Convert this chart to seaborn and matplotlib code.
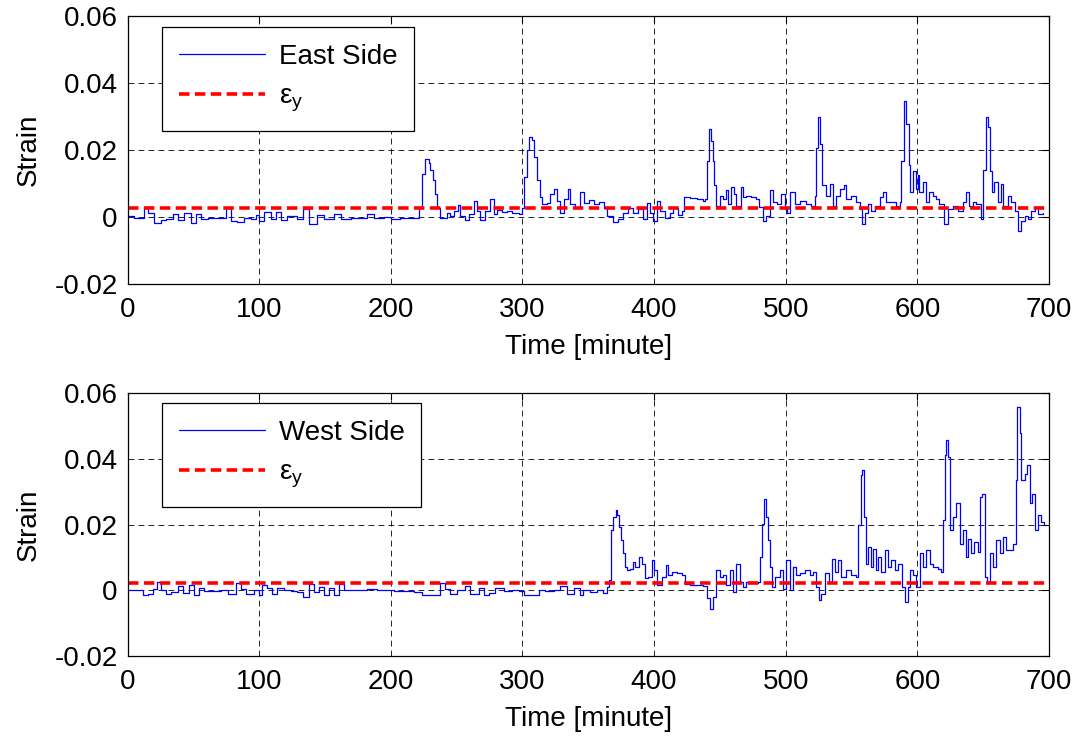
import matplotlib
matplotlib.use("Agg")
import matplotlib.pyplot as plt
import seaborn as sns
import pandas as pd

# ---------------- data ----------------
east_time = [0.6, 5.2, 10.2, 12.8, 15.3, 20.3, 25.4, 29.2, 34.3, 38.0, 43.1, 48.1, 51.9, 55.7,
             60.8, 68.4, 74.7, 78.5, 83.5, 88.6, 93.6, 97.4, 100.0, 103.7, 108.8, 112.6, 116.4,
             121.4, 129.0, 133.6, 137.8, 144.2, 149.2, 156.8, 161.8, 169.4, 174.5, 182.0, 187.1,
             194.7, 199.8, 207.3, 212.4, 218.7, 221.3, 223.8, 226.3, 228.8, 230.1, 232.1, 233.4,
             235.2, 237.2, 240.2, 242.8, 245.3, 247.8, 250.9, 252.9, 256.7, 259.2, 263.0, 265.5,
             268.0, 271.8, 275.1, 278.1, 280.7, 284.5, 288.3, 292.0, 297.1, 299.6, 301.4, 303.4,
             305.2, 307.2, 309.0, 311.0, 313.0, 314.8, 318.6, 321.1, 323.7, 326.2, 328.7, 331.2,
             334.3, 336.3, 340.1, 343.4, 346.4, 350.2, 354.0, 357.8, 361.6, 364.1, 369.1, 372.9,
             376.7, 380.5, 384.3, 388.1, 391.9, 394.4, 396.9, 399.5, 402.0, 404.5, 408.3, 412.1,
             414.7, 418.5, 421.0, 422.8, 427.3, 432.4, 437.5, 438.6, 439.9, 441.6, 443.1, 444.4,
             445.7, 447.4, 450.0, 452.5, 454.5, 456.3, 458.8, 460.6, 462.6, 465.7, 467.7, 470.2,
             474.0, 477.8, 479.8, 482.8, 484.8, 488.4, 490.4, 493.4, 496.7, 499.2, 501.0, 503.5,
             506.8, 510.6, 515.7, 519.4, 522.0, 523.2, 524.5, 525.8, 527.8, 530.3, 533.4, 535.9,
             538.4, 541.0, 544.0, 546.0, 549.8, 553.6, 556.1, 557.9, 559.9, 562.5, 565.0, 567.5,
             571.3, 573.8, 576.4, 580.2, 584.0, 586.5, 587.8, 589.8, 591.5, 593.3, 594.6, 596.6,
             598.6, 600.4, 601.6, 604.2, 606.7, 609.2, 611.7, 614.3, 616.8, 620.6, 623.1, 626.9,
             630.7, 634.5, 637.0, 639.6, 642.1, 644.6, 648.4, 650.2, 652.2, 653.8, 655.3, 656.8,
             658.6, 661.1, 663.6, 665.4, 668.7, 671.2, 673.8, 676.3, 678.8, 681.4, 683.9, 686.4,
             689.0, 691.5, 695.3]
east_strain = [0.0003, -0.0002, -0.0002, 0.0031, 0.0013, -0.0017, -0.0010, -0.0006, 0.0008,
               -0.0010, 0.0013, -0.0017, 0.0010, -0.0007, -0.0002, -0.0004, 0.0027, -0.0012,
               -0.0014, -0.0002, -0.0007, 0.0006, -0.0012, 0.0016, -0.0007, 0.0016, -0.0010,
               0.0003, -0.0007, 0.0023, -0.0020, 0.0006, -0.0007, 0.0008, -0.0007, -0.0002,
               -0.0002, 0.0010, -0.0002, 0.0000, -0.0007, -0.0002, -0.0004, -0.0002, 0.0026,
               0.0129, 0.0172, 0.0160, 0.0139, 0.0109, 0.0069, 0.0028, -0.0002, -0.0002, 0.0013,
               0.0003, 0.0018, 0.0036, 0.0003, -0.0010, 0.0008, 0.0048, 0.0018, -0.0010, 0.0018,
               0.0054, 0.0008, 0.0020, 0.0016, 0.0018, 0.0013, 0.0008, 0.0028, 0.0119, 0.0200,
               0.0240, 0.0230, 0.0180, 0.0109, 0.0059, 0.0038, 0.0043, 0.0069, 0.0084, 0.0048,
               0.0013, 0.0054, 0.0084, 0.0038, 0.0028, 0.0074, 0.0043, 0.0050, 0.0040, 0.0045,
               0.0028, 0.0003, -0.0014, -0.0007, 0.0013, 0.0028, 0.0013, 0.0023, -0.0007, 0.0043,
               0.0013, -0.0012, 0.0048, 0.0018, -0.0002, 0.0013, 0.0026, 0.0006, 0.0018, 0.0061,
               0.0057, 0.0054, 0.0048, 0.0054, 0.0166, 0.0263, 0.0227, 0.0166, 0.0095, 0.0034,
               0.0064, 0.0054, 0.0080, 0.0039, 0.0090, 0.0069, 0.0034, 0.0090, 0.0059, 0.0064,
               0.0059, 0.0054, 0.0029, -0.0012, 0.0003, 0.0080, 0.0044, 0.0039, 0.0069, 0.0023,
               0.0013, 0.0074, 0.0039, 0.0049, 0.0039, 0.0034, 0.0064, 0.0207, 0.0299, 0.0217,
               0.0095, 0.0064, 0.0100, 0.0034, 0.0064, 0.0085, 0.0095, 0.0054, 0.0064, 0.0044,
               0.0023, -0.0022, 0.0013, 0.0039, 0.0018, 0.0034, 0.0059, 0.0074, 0.0044, 0.0044,
               0.0034, 0.0044, 0.0166, 0.0345, 0.0278, 0.0156, 0.0074, 0.0136, 0.0085, 0.0125,
               0.0074, 0.0105, 0.0044, 0.0074, 0.0064, 0.0054, 0.0039, -0.0022, 0.0023, 0.0034,
               0.0018, 0.0044, 0.0074, 0.0034, 0.0044, 0.0039, -0.0007, 0.0141, 0.0299, 0.0268,
               0.0136, 0.0074, 0.0105, 0.0044, 0.0100, 0.0034, 0.0064, 0.0044, 0.0018, -0.0043,
               -0.0012, 0.0003, -0.0007, 0.0018, 0.0029, 0.0008, 0.0013]

west_time = [0.6, 5.0, 11.5, 15.3, 19.1, 22.4, 25.4, 29.2, 33.0, 38.0, 41.8, 46.9, 50.7, 54.5,
             58.3, 65.8, 70.9, 76.0, 82.3, 86.1, 89.9, 96.2, 100.0, 102.5, 106.3, 110.1, 113.9,
             118.9, 124.0, 129.0, 133.5, 137.9, 141.7, 145.5, 149.2, 153.0, 156.8, 160.6, 164.4,
             172.0, 182.1, 189.7, 197.3, 202.3, 209.9, 217.5, 223.8, 230.1, 237.7, 241.5, 245.3,
             250.4, 256.7, 260.5, 266.8, 270.6, 274.4, 279.4, 285.7, 292.1, 297.1, 300.9, 308.5,
             312.3, 317.3, 323.6, 328.7, 333.7, 338.8, 343.8, 346.3, 348.9, 351.4, 356.5, 361.5,
             364.0, 366.1, 367.4, 369.1, 370.9, 372.2, 373.7, 375.0, 376.3, 377.6, 379.2, 381.8,
             383.8, 385.6, 388.8, 390.6, 393.1, 395.6, 398.1, 399.9, 402.5, 405.8, 409.0, 410.8,
             413.3, 417.1, 421.0, 423.5, 427.3, 432.3, 437.3, 439.9, 442.4, 444.9, 447.4, 450.0,
             452.5, 455.0, 457.6, 460.1, 462.6, 465.2, 467.7, 470.2, 475.3, 479.0, 480.3, 482.1,
             483.6, 484.9, 486.7, 487.9, 489.2, 491.7, 495.5, 498.0, 500.5, 503.1, 505.6, 508.1,
             510.7, 514.5, 518.2, 520.8, 523.3, 525.3, 527.1, 529.6, 532.9, 535.4, 537.2, 539.7,
             542.2, 546.0, 549.8, 553.1, 554.9, 556.9, 558.2, 559.5, 560.7, 562.5, 565.0, 566.3,
             568.3, 570.1, 572.1, 575.2, 577.7, 580.2, 582.7, 585.3, 587.0, 588.6, 590.3, 592.8,
             594.1, 596.6, 599.2, 601.7, 604.2, 606.8, 609.3, 611.8, 615.6, 618.1, 619.4, 621.2,
             621.9, 623.2, 624.5, 627.0, 629.5, 632.1, 634.6, 636.6, 638.4, 640.9, 643.4, 646.0,
             647.3, 649.3, 651.1, 652.8, 654.9, 657.4, 659.9, 662.5, 665.0, 667.5, 670.1, 672.6,
             675.1, 675.9, 677.7, 679.0, 681.5, 683.5, 685.3, 687.3, 689.1, 691.6, 694.2, 696.2]
west_strain = [0.0000, 0.0000, -0.0015, -0.0010, 0.0005, 0.0025, 0.0000, -0.0010, -0.0005,
               0.0012, -0.0008, 0.0015, -0.0015, 0.0008, -0.0002, -0.0002, 0.0002, -0.0012,
               0.0022, 0.0005, -0.0012, 0.0000, -0.0015, 0.0015, 0.0008, -0.0010, 0.0008, 0.0000,
               -0.0002, -0.0005, -0.0020, 0.0020, -0.0005, 0.0010, -0.0015, 0.0008, -0.0015,
               0.0020, 0.0000, 0.0000, 0.0005, 0.0000, 0.0002, -0.0002, -0.0002, -0.0005,
               -0.0015, -0.0015, 0.0022, 0.0005, -0.0010, 0.0000, 0.0012, -0.0010, 0.0008,
               -0.0015, -0.0008, 0.0008, -0.0002, 0.0000, -0.0002, -0.0015, -0.0015, 0.0002,
               -0.0002, 0.0002, 0.0012, -0.0010, 0.0008, -0.0015, 0.0000, 0.0002, -0.0005,
               0.0000, -0.0008, 0.0010, 0.0030, 0.0183, 0.0223, 0.0244, 0.0228, 0.0193, 0.0152,
               0.0112, 0.0071, 0.0061, 0.0066, 0.0086, 0.0071, 0.0102, 0.0081, 0.0036, 0.0041,
               0.0091, 0.0061, 0.0015, 0.0041, 0.0076, 0.0046, 0.0056, 0.0051, 0.0046, 0.0020,
               0.0017, 0.0017, 0.0012, -0.0025, -0.0056, -0.0020, 0.0061, 0.0041, 0.0046, 0.0015,
               0.0061, -0.0005, 0.0081, 0.0025, 0.0010, 0.0025, 0.0022, 0.0025, 0.0102, 0.0203,
               0.0279, 0.0223, 0.0152, 0.0071, 0.0010, 0.0041, 0.0061, 0.0005, 0.0091, 0.0000,
               0.0071, 0.0046, 0.0051, 0.0061, 0.0046, 0.0056, 0.0010, -0.0030, -0.0010, 0.0051,
               0.0025, 0.0096, 0.0056, 0.0091, 0.0041, 0.0061, 0.0046, 0.0041, 0.0198, 0.0350,
               0.0365, 0.0223, 0.0081, 0.0132, 0.0071, 0.0127, 0.0061, 0.0102, 0.0056, 0.0122,
               0.0071, 0.0091, 0.0061, 0.0081, 0.0081, 0.0010, -0.0036, 0.0010, 0.0061, 0.0046,
               0.0010, 0.0112, 0.0071, 0.0122, 0.0081, 0.0071, 0.0066, 0.0056, 0.0213, 0.0411,
               0.0457, 0.0406, 0.0183, 0.0223, 0.0264, 0.0142, 0.0183, 0.0102, 0.0157, 0.0112,
               0.0147, 0.0117, 0.0284, 0.0294, 0.0041, 0.0025, 0.0112, 0.0071, 0.0152, 0.0112,
               0.0162, 0.0122, 0.0122, 0.0142, 0.0335, 0.0558, 0.0477, 0.0335, 0.0355, 0.0380,
               0.0264, 0.0294, 0.0183, 0.0228, 0.0208, 0.0203]

eps_y_east = 0.0027
eps_y_west = 0.0023
x_range = [0, 700]

panel_names = ["East Side", "West Side"]
x_ticks = [0, 100, 200, 300, 400, 500, 600, 700]
y_ticks = [-0.02, 0, 0.02, 0.04, 0.06]
y_tick_labels = ["-0.02", "0", "0.02", "0.04", "0.06"]
x_label = "Time [minute]"
y_label = "Strain"
eps_label = r"$\mathregular{\varepsilon_y}$"

# ---------------- style ----------------
sns.set_theme(style="white")
plt.rcParams["font.family"] = ["Liberation Sans", "DejaVu Sans"]
plt.rcParams["mathtext.fontset"] = "custom"
plt.rcParams["mathtext.rm"] = "Liberation Sans"
plt.rcParams["mathtext.it"] = "Liberation Sans"
for k in ["text.color", "axes.labelcolor", "xtick.color", "ytick.color"]:
    plt.rcParams[k] = "black"
FS = 20

fig = plt.figure(figsize=(10.77, 7.40), dpi=100)
ax_top = fig.add_axes([0.1184, 0.6162, 0.8556, 0.3622])
ax_bot = fig.add_axes([0.1184, 0.1135, 0.8556, 0.3554])

series = [
    (ax_top, east_time, east_strain, eps_y_east, panel_names[0], 0.959),
    (ax_bot, west_time, west_strain, eps_y_west, panel_names[1], 0.962),
]

for ax, t, s, eps, name, leg_y in series:
    df = pd.DataFrame({"time": t, "strain": s})
    sns.lineplot(data=df, x="time", y="strain", ax=ax, color="#0000ff", lw=0.9,
                 estimator=None, sort=False, drawstyle="steps-post", label=name)
    eps_df = pd.DataFrame({"time": x_range, "strain": [eps, eps]})
    sns.lineplot(data=eps_df, x="time", y="strain", ax=ax, color="#ff0000", lw=2.6,
                 estimator=None, sort=False, label=eps_label)
    ax.lines[-1].set_linestyle((0, (2.9, 1.5)))

    ax.set_xlim(0, 700)
    ax.set_ylim(-0.02, 0.06)
    ax.set_xticks(x_ticks)
    ax.set_xticklabels([str(v) for v in x_ticks], fontsize=FS)
    ax.set_yticks(y_ticks)
    ax.set_yticklabels(y_tick_labels, fontsize=FS)
    ax.set_xlabel(x_label, fontsize=FS, labelpad=8)
    ax.set_ylabel(y_label, fontsize=FS, labelpad=9)
    ax.grid(True, color="black", linestyle=(0, (7, 5)), linewidth=0.6)
    ax.tick_params(axis="both", direction="in", length=5, width=0.8, top=True, right=True,
                   colors="black")
    ax.tick_params(axis="x", pad=9)
    ax.tick_params(axis="y", pad=7)
    for sp in ax.spines.values():
        sp.set_visible(True)
        sp.set_color("black")
        sp.set_linewidth(0.9)

    leg = ax.legend(loc="upper left", bbox_to_anchor=(0.0374, leg_y), borderaxespad=0,
                    fontsize=FS, handlelength=3.1, handletextpad=0.5,
                    labelspacing=0.5, borderpad=0.6, fancybox=False, framealpha=1)
    leg.get_frame().set_edgecolor("black")
    leg.get_frame().set_linewidth(0.9)
    leg.get_lines()[0].set_linewidth(0.9)

fig.savefig("out.png", dpi=100, facecolor="white")
